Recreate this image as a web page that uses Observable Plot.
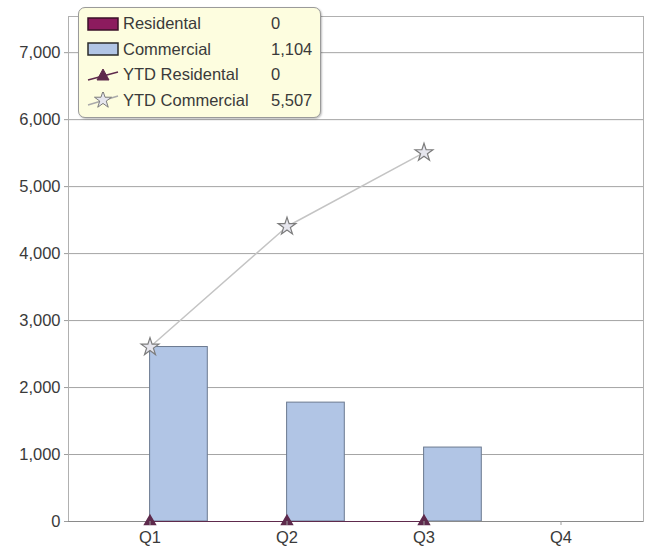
<!DOCTYPE html>
<html>
<head>
<meta charset="utf-8">
<script src="https://cdn.jsdelivr.net/npm/d3@7"></script>
<script src="https://cdn.jsdelivr.net/npm/@observablehq/plot@0.6"></script>
<style>
  html, body { margin: 0; padding: 0; background: #fff; }
  #wrap { position: relative; width: 648px; height: 551px; font-family: "Liberation Sans", Arial, sans-serif; }
  #legend {
    position: absolute; left: 78px; top: 7px; width: 243px; height: 111px;
    box-sizing: border-box; background: #fdfddf; border: 1px solid #9a9a9a;
    border-radius: 7px; box-shadow: 1px 1px 2px rgba(0,0,0,0.25);
    font-size: 16.5px; color: #3a3a3a;
  }
  .row { position: absolute; left: 8px; height: 25px; display: flex; align-items: center; }
  .row .name { margin-left: 4px; width: 150px; }
  .row .val { position: absolute; left: 184px; }
</style>
</head>
<body>
<div id="wrap"><div id="chart"></div><div id="legend"></div></div>
<script>
const quarters = ["Q1", "Q2", "Q3", "Q4"];
const residential = [0, 0, 0, null];
const commercial = [2605, 1775, 1104, null];
const ytdResidential = [0, 0, 0, null];
const ytdCommercial = [2605, 4405, 5507, null];
const yTicks = [0, 1000, 2000, 3000, 4000, 5000, 6000, 7000];
const seriesNames = ["Residental", "Commercial", "YTD Residental", "YTD Commercial"];

const rows = quarters.map((q, i) => ({
  q, residential: residential[i], commercial: commercial[i],
  ytdResidential: ytdResidential[i], ytdCommercial: ytdCommercial[i]
}));
const def = k => rows.filter(d => d[k] != null);

const colors = {
  residential: "#8c1b5e", commercial: "#b1c5e5", commercialStroke: "#6c7a90",
  ytdRes: "#5e2a4c", ytdComLine: "#c4c4c4", starFill: "#e6e6ee", starStroke: "#7c7c7c"
};

const chart = Plot.plot({
  width: 648,
  height: 551,
  marginLeft: 68,
  marginRight: 5,
  marginTop: 16,
  marginBottom: 30,
  style: { fontFamily: "'Liberation Sans', Arial, sans-serif", fontSize: "16.5px", color: "#3a3a3a", background: "transparent" },
  x: { type: "band", domain: quarters, range: [80.4, 629.6], padding: 0, label: null },
  y: { domain: [0, 7540], label: null },
  marks: [
    Plot.gridY(yTicks, { stroke: "#a4a4a4", strokeOpacity: 1 }),
    Plot.frame({ stroke: "#b0b0b0" }),
    Plot.barY(def("residential"), { x: "q", y: "residential", fill: colors.residential, stroke: "#4a1030", insetLeft: 10.7, insetRight: 68.6 }),
    Plot.barY(def("commercial"), { x: "q", y: "commercial", fill: colors.commercial, stroke: colors.commercialStroke, insetLeft: 68.6, insetRight: 10.7 }),
    Plot.ruleY([0], { stroke: "#8a8a8a" }),
    Plot.line(def("ytdCommercial"), { x: "q", y: "ytdCommercial", stroke: colors.ytdComLine, strokeWidth: 1.5 }),
    Plot.dot(def("ytdCommercial"), { x: "q", y: "ytdCommercial", symbol: "star", r: 5.6, fill: colors.starFill, stroke: colors.starStroke, strokeWidth: 1.2 }),
    Plot.line(def("ytdResidential"), { x: "q", y: "ytdResidential", stroke: colors.ytdRes, strokeWidth: 1 }),
    Plot.dot(def("ytdResidential"), { x: "q", y: "ytdResidential", symbol: "triangle", r: 4, fill: colors.ytdRes, stroke: colors.ytdRes }),
    Plot.axisY(yTicks, { tickFormat: d3.format(","), tickSize: 4, tickPadding: 4, stroke: "#9c9c9c", fill: "#3a3a3a", label: null }),
    Plot.axisX({ tickSize: 4, tickPadding: 6, stroke: "#9c9c9c", fill: "#3a3a3a", label: null })
  ]
});
document.getElementById("chart").appendChild(chart);

// Legend
const last = arr => { const v = arr.filter(d => d != null); return v[v.length - 1]; };
const fmt = d3.format(",");
const legendValues = [last(residential), last(commercial), last(ytdResidential), last(ytdCommercial)];
const swatches = [
  `<svg width="32" height="16"><rect x="1" y="2" width="30" height="12" fill="${colors.residential}" stroke="#3a1028" stroke-width="1.5"/></svg>`,
  `<svg width="32" height="16"><rect x="1" y="2" width="30" height="12" fill="${colors.commercial}" stroke="#2a2a2a" stroke-width="1.5"/></svg>`,
  `<svg width="32" height="16"><line x1="1" y1="13" x2="31" y2="5" stroke="${colors.ytdRes}" stroke-width="1.5"/><path d="M16,2 L22,13 L10,13 Z" fill="${colors.ytdRes}" stroke="${colors.ytdRes}"/></svg>`,
  `<svg width="32" height="16"><line x1="1" y1="13" x2="31" y2="4" stroke="#aaaaaa" stroke-width="1.5"/><path d="${d3.symbol(d3.symbolStar, 90)()}" transform="translate(16,8)" fill="${colors.starFill}" stroke="${colors.starStroke}"/></svg>`
];
const legend = document.getElementById("legend");
seriesNames.forEach((name, i) => {
  const r = document.createElement("div");
  r.className = "row";
  r.style.top = (3 + i * 25.5) + "px";
  r.innerHTML = swatches[i] + `<span class="name">${name}</span><span class="val">${fmt(legendValues[i])}</span>`;
  legend.appendChild(r);
});
</script>
</body>
</html>
